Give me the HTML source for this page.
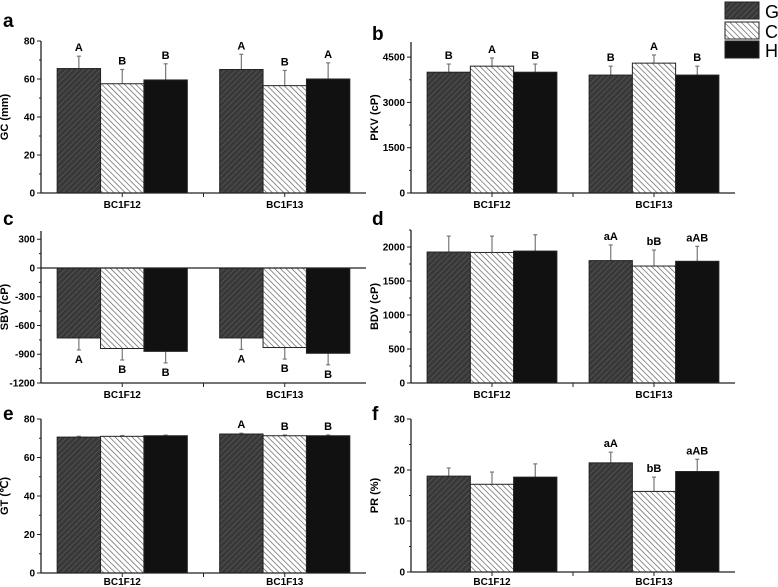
<!DOCTYPE html>
<html><head><meta charset="utf-8"><style>
body{margin:0;background:#fff;}
svg{display:block;font-family:"Liberation Sans",Arial,sans-serif;}
</style></head><body>
<svg id="chart" width="778" height="587" viewBox="0 0 778 587" xmlns="http://www.w3.org/2000/svg">
<defs>
<pattern id="hatchG" patternUnits="userSpaceOnUse" width="4" height="4" patternTransform="rotate(45)">
<rect width="4" height="4" fill="#383838"/><line x1="0" y1="0" x2="0" y2="4" stroke="#5a5a5a" stroke-width="1.4"/></pattern>
<pattern id="hatchC" patternUnits="userSpaceOnUse" width="4" height="4" patternTransform="rotate(-45)">
<rect width="4" height="4" fill="#fff"/><line x1="0" y1="0" x2="0" y2="4" stroke="#555" stroke-width="1.3"/></pattern>
</defs>
<g>
<rect x="725" y="2" width="34" height="17" fill="url(#hatchG)" stroke="#222"/>
<text x="765" y="18" font-size="18">G</text>
<rect x="725" y="22" width="34" height="17" fill="url(#hatchC)" stroke="#222"/>
<text x="765" y="38" font-size="18">C</text>
<rect x="725" y="41" width="34" height="17" fill="#111" stroke="#222"/>
<text x="765" y="57" font-size="18">H</text>
</g>
</svg>
<script>
const categories = ["BC1F12","BC1F13"];
const seriesNames = ["G","C","H"];
const gcValues = [[65.5,57.5,59.5],[65,56.5,60]];
const gcErr = [[72,65,68],[73,64.5,68.5]];
const gcLetters = [["A","B","B"],["A","B","A"]];
const pkvValues = [[4000,4200,4000],[3905,4300,3905]];
const pkvErr = [[4270,4470,4270],[4200,4570,4200]];
const pkvLetters = [["B","A","B"],["B","A","B"]];
const sbvValues = [[-730,-840,-870],[-730,-830,-890]];
const sbvErr = [[-855,-960,-990],[-850,-950,-1010]];
const sbvLetters = [["A","B","B"],["A","B","B"]];
const bdvValues = [[1926,1920,1940],[1800,1720,1790]];
const bdvErr = [[2160,2160,2180],[2030,1955,2010]];
const bdvLetters = [["","",""],["aA","bB","aAB"]];
const gtValues = [[70.6,71,71.3],[72.2,71.3,71.3]];
const gtErr = [[71,71.4,71.6],[72.6,71.7,71.7]];
const gtLetters = [["","",""],["A","B","B"]];
const prValues = [[18.8,17.2,18.6],[21.4,15.8,19.7]];
const prErr = [[20.4,19.6,21.2],[23.5,18.6,22.1]];
const prLetters = [["","",""],["aA","bB","aAB"]];
const gcTicks = [0,20,40,60,80];
const pkvTicks = [0,1500,3000,4500];
const sbvTicks = [-1200,-900,-600,-300,0,300];
const bdvTicks = [0,500,1000,1500,2000];
const gtTicks = [0,20,40,60,80];
const prTicks = [0,10,20,30];

const NS="http://www.w3.org/2000/svg";
const svg=document.getElementById('chart');
function mk(tag,attrs,parent,text){const e=document.createElementNS(NS,tag);for(const k in attrs)e.setAttribute(k,attrs[k]);if(text!==undefined)e.textContent=text;(parent||svg).appendChild(e);return e;}
const fills=["url(#hatchG)","url(#hatchC)","#111"];

function panel(o){
  const g=mk('g',{});
  
  
  const y=v=>o.y0-(v-o.vmin)/(o.vmax-o.vmin)*(o.y0-o.ytop);
  const W=o.x1-o.x0, bw=W*0.1335;
  const cx=i=>o.x0+W*(0.25+0.5*i);
  const pl=mk('text',{x:o.lx,y:o.ly,'font-size':19,'font-weight':'bold'},g,o.letter);
  
  
  const base=y(o.baseVal);
  categories.forEach((c,i)=>{
    o.values[i].forEach((v,j)=>{
      const x=cx(i)+(j-1.5)*bw;
      const top=Math.min(y(v),base), h=Math.abs(y(v)-base);
      const ey=y(o.err[i][j]), bx=x+bw/2;
      const el=mk('line',{x1:bx,x2:bx,y1:y(v),y2:ey,stroke:'#777','stroke-width':1.2},g);
      
      
      const cap=mk('line',{x1:bx-2,x2:bx+2,y1:ey,y2:ey,stroke:'#777','stroke-width':1.2},g);
      
      
      const r=mk('rect',{x:x,y:top,width:bw,height:h,fill:fills[j],stroke:'#222','stroke-width':1},g);
      
      
      const L=o.letters[i][j];
      if(L){const neg=o.err[i][j]<o.baseVal;
        const t=mk('text',{x:bx,y:neg?ey+13:ey-5,'font-size':11,'font-weight':'bold','text-anchor':'middle'},g,L);
        
        }
    });
  });
  const ax=mk('line',{x1:o.x0,x2:o.x0,y1:o.ytop,y2:o.y0,stroke:'#222','stroke-width':1.3},g);
  
  
  const bx=mk('line',{x1:o.x0,x2:o.x1,y1:o.y0,y2:o.y0,stroke:'#222','stroke-width':1.3},g);
  
  
  if(o.baseVal!==o.vmin){const z=mk('line',{x1:o.x0,x2:o.x1,y1:base,y2:base,stroke:'#222','stroke-width':1.3},g);
    }
  const step=o.ticks[1]-o.ticks[0];
  for(let v=o.vmin;v<=o.vmax+1e-6;v+=step/2){
    const major=o.ticks.some(t=>Math.abs(t-v)<1e-6);
    mk('line',{x1:o.x0-(major?4:2),x2:o.x0,y1:y(v),y2:y(v),stroke:'#222','stroke-width':1},g);
  }
  o.ticks.forEach(t=>{const e=mk('text',{x:o.x0-6,y:y(t)+3.5,'font-size':10,'font-weight':'bold','text-anchor':'end'},g,String(t));
    });
  [0.25,0.5,0.75].forEach(f=>mk('line',{x1:o.x0+W*f,x2:o.x0+W*f,y1:o.y0,y2:o.y0+4,stroke:'#222','stroke-width':1},g));
  categories.forEach((c,i)=>{const e=mk('text',{x:cx(i),y:Math.min(o.y0+15,585),'font-size':10,'font-weight':'bold','text-anchor':'middle'},g,c);
    });
  const my=(o.ytop+o.y0)/2;
  const yt=mk('text',{x:o.x0-33,y:my,'font-size':11,'font-weight':'bold','text-anchor':'middle',transform:`rotate(-90 ${o.x0-33} ${my})`},g,o.title);
  
  
}
panel({letter:'a',lx:3,ly:27,x0:41,x1:366,y0:193,ytop:41,vmin:0,vmax:80,baseVal:0,ticks:gcTicks,values:gcValues,err:gcErr,letters:gcLetters,title:'GC (mm)'});
panel({letter:'b',lx:372,ly:40,x0:411,x1:735,y0:193,ytop:42,vmin:0,vmax:5000,baseVal:0,ticks:pkvTicks,values:pkvValues,err:pkvErr,letters:pkvLetters,title:'PKV (cP)'});
panel({letter:'c',lx:3,ly:225,x0:41,x1:366,y0:383,ytop:231,vmin:-1200,vmax:386,baseVal:0,ticks:sbvTicks,values:sbvValues,err:sbvErr,letters:sbvLetters,title:'SBV (cP)'});
panel({letter:'d',lx:372,ly:225,x0:411,x1:735,y0:383,ytop:230,vmin:0,vmax:2250,baseVal:0,ticks:bdvTicks,values:bdvValues,err:bdvErr,letters:bdvLetters,title:'BDV (cP)'});
panel({letter:'e',lx:3,ly:420,x0:41,x1:366,y0:573,ytop:419,vmin:0,vmax:80,baseVal:0,ticks:gtTicks,values:gtValues,err:gtErr,letters:gtLetters,title:'GT (℃)'});
panel({letter:'f',lx:372,ly:420,x0:411,x1:735,y0:572,ytop:419,vmin:0,vmax:30,baseVal:0,ticks:prTicks,values:prValues,err:prErr,letters:prLetters,title:'PR (%)'});
</script>
</body></html>
